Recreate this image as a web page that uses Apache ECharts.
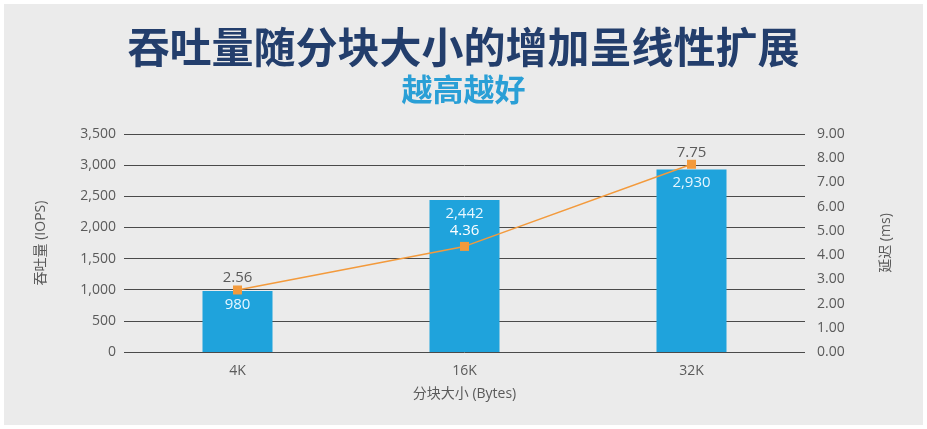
<!DOCTYPE html>
<html>
<head>
<meta charset="UTF-8">
<title></title>
<script src="https://cdn.jsdelivr.net/npm/echarts@6/dist/echarts.min.js"></script>
<style>
  html, body { margin: 0; padding: 0; background: #ffffff; }
  #wrap { width: 927px; height: 429px; box-sizing: border-box; padding: 4px; background: #ffffff; }
  #chart { width: 919px; height: 421px; }
</style>
</head>
<body>
<div id="wrap"><div id="chart"></div></div>
<script type="text/javascript">
// 数据
var blockSizes = ['4K', '16K', '32K'];
var iops = [980, 2442, 2930];
var latency = [2.56, 4.36, 7.75];

var font = '"Open Sans", "Noto Sans CJK SC", sans-serif';

var myChart = echarts.init(document.getElementById('chart'));

// 延迟标签：落在柱子里的用白色
var latencyData = latency.map(function (v, i) {
    if (v * 3500 / 9 < iops[i]) {
        return { value: v, label: { color: '#ffffff', distance: 4 } };
    }
    return v;
});

var option = {
    backgroundColor: '#ebebeb',
    textStyle: { fontFamily: font },
    title: [{
        text: '吞吐量随分块大小的增加呈线性扩展',
        left: 'center',
        top: 17,
        textStyle: { color: '#233e6c', fontSize: 42, fontWeight: 'bold', fontFamily: '"Noto Sans CJK SC", sans-serif' }
    }, {
        text: '越高越好',
        left: 'center',
        top: 65,
        textStyle: { color: '#2a9fd6', fontSize: 31, fontWeight: 'bold', fontFamily: '"Noto Sans CJK SC", sans-serif' }
    }],
    grid: { left: 120, right: 118, top: 130, bottom: 73 },
    xAxis: {
        type: 'category',
        data: blockSizes,
        name: '分块大小 (Bytes)',
        nameLocation: 'middle',
        nameGap: 35,
        nameTextStyle: { color: '#5a5a5a', fontSize: 14 },
        axisLine: { show: false },
        axisTick: { show: false },
        axisLabel: { color: '#5a5a5a', fontSize: 14, margin: 12 }
    },
    yAxis: [{
        type: 'value',
        min: 0, max: 3500, interval: 500,
        name: '吞吐量 (IOPS)',
        nameLocation: 'middle',
        nameRotate: 90,
        nameGap: 76,
        nameTextStyle: { color: '#5a5a5a', fontSize: 14 },
        axisLabel: {
            color: '#5a5a5a', fontSize: 14, margin: 8,
            formatter: function (v) { return v.toLocaleString('en-US'); }
        },
        splitLine: { lineStyle: { color: '#4a4a4a', width: 1 } }
    }, {
        type: 'value',
        min: 0, max: 9, interval: 1,
        name: '延迟 (ms)',
        nameLocation: 'middle',
        nameRotate: 90,
        nameGap: 74,
        nameTextStyle: { color: '#5a5a5a', fontSize: 14 },
        axisLabel: {
            color: '#5a5a5a', fontSize: 14, margin: 12,
            formatter: function (v) { return v.toFixed(2); }
        },
        splitLine: { show: false }
    }],
    series: [{
        name: '吞吐量',
        type: 'bar',
        data: iops,
        barWidth: 70,
        itemStyle: { color: '#1fa3dc' },
        label: {
            show: true,
            position: 'insideTop',
            distance: 6,
            color: '#e6f6ff',
            fontSize: 15,
            formatter: function (p) { return p.value.toLocaleString('en-US'); }
        }
    }, {
        name: '延迟',
        type: 'line',
        yAxisIndex: 1,
        data: latencyData,
        symbol: 'rect',
        symbolSize: 9,
        lineStyle: { color: '#f39a3c', width: 1.5 },
        itemStyle: { color: '#f39a3c' },
        label: {
            show: true,
            position: 'top',
            distance: 0,
            color: '#5a5a5a',
            fontSize: 15,
            formatter: function (p) { return p.value.toFixed(2); }
        }
    }]
};

myChart.setOption(option);
</script>
</body>
</html>
